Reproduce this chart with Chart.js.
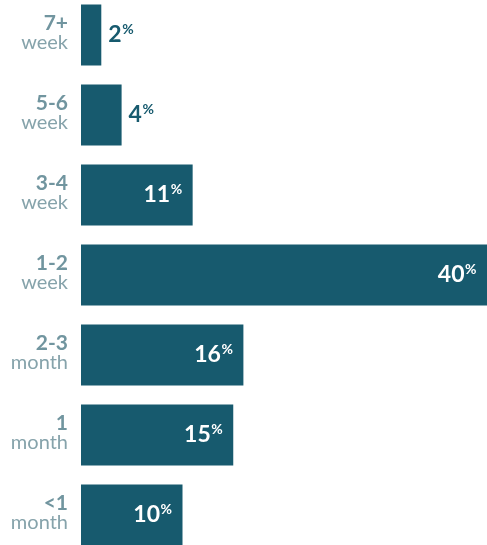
<!DOCTYPE html>
<html>
<head>
<meta charset="utf-8">
<script src="https://cdn.jsdelivr.net/npm/chart.js@4"></script>
<style>
  html, body { margin: 0; padding: 0; background: #fff; overflow: hidden; }
  #wrap { position: relative; width: 487px; height: 545px; overflow: hidden; }
  #chart { position: absolute; left: 0; top: -5px; }
</style>
</head>
<body>
<div id="wrap">
  <canvas id="chart" width="487" height="560"></canvas>
</div>
<script>
// data, top bar first
var mainLabels = ['7+', '5-6', '3-4', '1-2', '2-3', '1', '<1'];
var unitLabels = ['week', 'week', 'week', 'week', 'month', 'month', 'month'];
var shares = [2, 4, 11, 40, 16, 15, 10];

var barColor = '#175a6e';
var labelFont = 'Lato, "Open Sans", sans-serif';

// draws the two-line category labels and the % values
var labelPlugin = {
    id: 'labels',
    afterDatasetsDraw: function(chart) {
        var ctx = chart.ctx;
        var yScale = chart.scales.y;
        var meta = chart.getDatasetMeta(0);
        ctx.save();
        ctx.textBaseline = 'alphabetic';

        for (var i = 0; i < mainLabels.length; i++) {
            var cy = yScale.getPixelForValue(i);
            ctx.textAlign = 'right';
            ctx.fillStyle = '#71959f';
            ctx.font = 'bold 21px ' + labelFont;
            ctx.fillText(mainLabels[i], 68, cy - 5);
            ctx.fillStyle = '#86a3ab';
            ctx.font = '20px ' + labelFont;
            ctx.fillText(unitLabels[i], 68, cy + 13.5);

            // value text
            var bar = meta.data[i];
            var num = String(shares[i]);
            ctx.font = 'bold 23px ' + labelFont;
            var numW = ctx.measureText(num).width;
            ctx.font = 'bold 14px ' + labelFont;
            var pctW = ctx.measureText('%').width;
            var x, color;
            if (shares[i] < 5) {
                x = bar.x + 7;
                color = barColor;
            } else {
                x = bar.x - 11 - numW - pctW;
                color = '#ffffff';
            }
            ctx.textAlign = 'left';
            ctx.fillStyle = color;
            ctx.font = 'bold 23px ' + labelFont;
            ctx.fillText(num, x, cy + 7);
            ctx.font = 'bold 14px ' + labelFont;
            ctx.fillText('%', x + numW + 0.5, cy - 1);
        }
        ctx.restore();
    }
};

new Chart(document.getElementById('chart'), {
    type: 'bar',
    data: {
        labels: mainLabels,
        datasets: [{
            data: shares,
            backgroundColor: barColor,
            borderWidth: 0,
            barPercentage: 1,
            categoryPercentage: 0.7625
        }]
    },
    options: {
        indexAxis: 'y',
        responsive: false,
        animation: false,
        devicePixelRatio: 1,
        layout: { padding: { left: 81, right: 0, top: 0, bottom: 0 } },
        plugins: {
            legend: { display: false },
            tooltip: { enabled: false }
        },
        scales: {
            x: { display: false, min: 0, max: 40 },
            y: { display: false, offset: true }
        }
    },
    plugins: [labelPlugin]
});
</script>
</body>
</html>
